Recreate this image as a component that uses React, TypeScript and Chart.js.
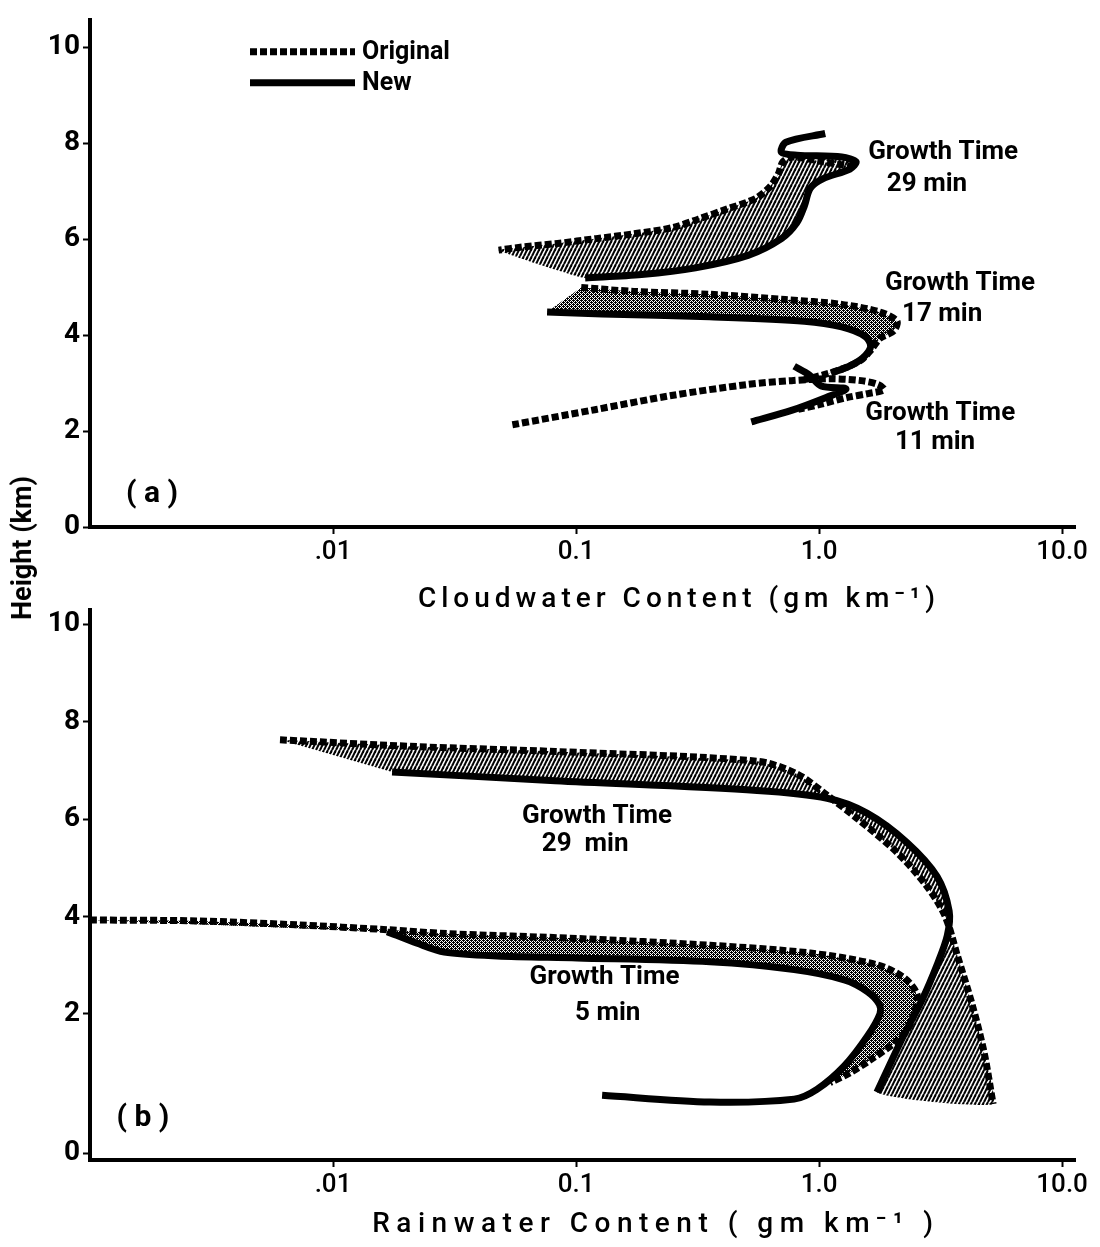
import React, { useEffect, useRef } from 'react';
import { Chart, registerables } from 'chart.js';

Chart.register(...registerables);

type P = { x: number; y: number };

// ---------- axes ----------
const contentTicks = [0.01, 0.1, 1, 10];
const contentTickLabels = ['.01', '0.1', '1.0', '10.0'];
const heightTicksA = [0, 2, 4, 6, 8, 10];
const heightTicksB = [-0.86, 2, 4, 6, 8, 10];
const heightTickLabels = ['0', '2', '4', '6', '8', '10'];

// ---------- panel (a): cloudwater ----------
const cloudOriginal29: P[] = [
  { x: 1.39, y: 7.51 }, { x: 1.04, y: 7.61 }, { x: 0.78, y: 7.71 }, { x: 0.71, y: 7.61 },
  { x: 0.68, y: 7.36 }, { x: 0.63, y: 7.1 }, { x: 0.55, y: 6.85 }, { x: 0.42, y: 6.63 },
  { x: 0.32, y: 6.42 }, { x: 0.25, y: 6.24 }, { x: 0.173, y: 6.11 }, { x: 0.121, y: 6.01 },
  { x: 0.084, y: 5.91 }, { x: 0.059, y: 5.83 }, { x: 0.048, y: 5.77 },
];
const cloudNew29: P[] = [
  { x: 1.06, y: 8.2 }, { x: 0.73, y: 8.02 }, { x: 0.7, y: 7.81 }, { x: 0.81, y: 7.75 },
  { x: 1.24, y: 7.71 }, { x: 1.42, y: 7.61 }, { x: 1.34, y: 7.46 }, { x: 1.04, y: 7.26 },
  { x: 0.92, y: 7.06 }, { x: 0.87, y: 6.69 }, { x: 0.81, y: 6.34 }, { x: 0.7, y: 6.01 },
  { x: 0.51, y: 5.66 }, { x: 0.31, y: 5.4 }, { x: 0.186, y: 5.26 }, { x: 0.109, y: 5.19 },
];
const cloudOriginal17: P[] = [
  { x: 0.105, y: 4.99 }, { x: 0.173, y: 4.91 }, { x: 0.354, y: 4.85 }, { x: 0.726, y: 4.74 },
  { x: 1.24, y: 4.64 }, { x: 1.78, y: 4.48 }, { x: 2.09, y: 4.29 }, { x: 2.03, y: 4.09 },
  { x: 1.78, y: 3.93 }, { x: 1.63, y: 3.68 }, { x: 1.49, y: 3.48 }, { x: 1.24, y: 3.29 },
  { x: 1.04, y: 3.17 }, { x: 0.87, y: 3.07 },
];
const cloudNew17: P[] = [
  { x: 0.076, y: 4.48 }, { x: 0.128, y: 4.44 }, { x: 0.354, y: 4.38 }, { x: 0.87, y: 4.29 },
  { x: 1.24, y: 4.17 }, { x: 1.55, y: 3.97 }, { x: 1.63, y: 3.76 }, { x: 1.51, y: 3.52 },
  { x: 1.33, y: 3.35 }, { x: 1.12, y: 3.21 },
];
const cloudOriginal11: P[] = [
  { x: 0.0547, y: 2.13 }, { x: 0.121, y: 2.45 }, { x: 0.247, y: 2.74 }, { x: 0.507, y: 2.97 },
  { x: 0.77, y: 3.05 }, { x: 1.12, y: 3.09 }, { x: 1.49, y: 3.05 }, { x: 1.75, y: 2.97 },
  { x: 1.85, y: 2.86 }, { x: 1.59, y: 2.78 }, { x: 1.31, y: 2.7 }, { x: 1.02, y: 2.56 },
  { x: 0.82, y: 2.45 },
];
const cloudNew11: P[] = [
  { x: 0.526, y: 2.19 }, { x: 0.77, y: 2.43 }, { x: 1.07, y: 2.7 }, { x: 1.29, y: 2.88 },
  { x: 1.02, y: 2.94 }, { x: 0.91, y: 3.17 }, { x: 0.79, y: 3.35 },
];

// ---------- panel (b): rainwater ----------
const rainOriginal29: P[] = [
  { x: 0.00605, y: 7.63 }, { x: 0.0222, y: 7.49 }, { x: 0.082, y: 7.39 }, { x: 0.556, y: 7.19 },
  { x: 0.81, y: 6.93 }, { x: 1.08, y: 6.49 }, { x: 1.43, y: 6.02 }, { x: 2.09, y: 5.32 },
  { x: 2.78, y: 4.62 }, { x: 3.3, y: 4.01 }, { x: 3.7, y: 3.21 }, { x: 4.26, y: 2.2 },
  { x: 4.78, y: 1.2 }, { x: 5.2, y: 0.15 },
];
const rainNew29: P[] = [
  { x: 0.0175, y: 6.97 }, { x: 0.082, y: 6.79 }, { x: 0.556, y: 6.59 }, { x: 1.08, y: 6.43 },
  { x: 1.58, y: 6.12 }, { x: 2.3, y: 5.52 }, { x: 3.06, y: 4.82 }, { x: 3.43, y: 4.11 },
  { x: 3.37, y: 3.61 }, { x: 3.06, y: 3.01 }, { x: 2.66, y: 2.3 }, { x: 2.2, y: 1.5 },
  { x: 1.73, y: 0.39 },
];
const rainOriginal5: P[] = [
  { x: 0.001, y: 3.93 }, { x: 0.00275, y: 3.91 }, { x: 0.0071, y: 3.83 }, { x: 0.0167, y: 3.73 },
  { x: 0.0294, y: 3.65 }, { x: 0.101, y: 3.55 }, { x: 0.356, y: 3.41 }, { x: 0.92, y: 3.25 },
  { x: 1.73, y: 3.01 }, { x: 2.24, y: 2.74 }, { x: 2.53, y: 2.4 }, { x: 2.48, y: 2.06 },
  { x: 2.3, y: 1.66 }, { x: 2.04, y: 1.4 }, { x: 1.62, y: 1.05 }, { x: 1.34, y: 0.79 },
  { x: 1.11, y: 0.59 },
];
const rainNew5: P[] = [
  { x: 0.0167, y: 3.69 }, { x: 0.0222, y: 3.45 }, { x: 0.0287, y: 3.27 }, { x: 0.0473, y: 3.19 },
  { x: 0.101, y: 3.15 }, { x: 0.356, y: 3.07 }, { x: 0.79, y: 2.91 }, { x: 1.27, y: 2.7 },
  { x: 1.58, y: 2.46 }, { x: 1.77, y: 2.2 }, { x: 1.78, y: 2.0 }, { x: 1.58, y: 1.54 },
  { x: 1.27, y: 0.93 }, { x: 0.98, y: 0.45 }, { x: 0.79, y: 0.25 }, { x: 0.356, y: 0.19 },
  { x: 0.128, y: 0.33 },
];

// ---------- text ----------
const cloudNotes = [
  { text: 'Growth Time', x: 3.24, y: 7.81 },
  { text: '29 min', x: 2.78, y: 7.14 },
  { text: 'Growth Time', x: 3.8, y: 5.07 },
  { text: '17 min', x: 3.21, y: 4.42 },
  { text: 'Growth Time', x: 3.15, y: 2.37 },
  { text: '11 min', x: 3.0, y: 1.76 },
];
const rainNotes = [
  { text: 'Growth Time', x: 0.122, y: 6.06 },
  { text: '29  min', x: 0.109, y: 5.48 },
  { text: 'Growth Time', x: 0.131, y: 2.74 },
  { text: '5 min', x: 0.135, y: 2.0 },
];
const legendLabels = ['Original', 'New'];

const ORIGINAL_STYLE = { borderColor: '#000', borderWidth: 7, borderDash: [7, 3] };
const NEW_STYLE = { borderColor: '#000', borderWidth: 7, borderDash: [] as number[] };

type Group = { orig: P[]; neu: P[]; fill: 'hatch' | 'stipple' | null; from?: number; to?: number };
type Panel = {
  groups: Group[];
  notes: { text: string; x: number; y: number }[];
  yMin: number; yMax: number; yTicks: number[];
  xAxisHeight: number; padTop: number;
  title: string; titleAt: number; titleGap: number; titleSpacing: string;
  tag: string; tagX: number; tagY: number;
  legend: boolean;
};

const panelA: Panel = {
  groups: [
    { orig: cloudOriginal29, neu: cloudNew29, fill: 'hatch', from: 3 },
    { orig: cloudOriginal17, neu: cloudNew17, fill: 'stipple' },
    { orig: cloudOriginal11, neu: cloudNew11, fill: null },
  ],
  notes: cloudNotes,
  yMin: 0, yMax: 10.57, yTicks: heightTicksA,
  xAxisHeight: 98, padTop: 10,
  title: 'Cloudwater Content (gm km⁻¹)', titleAt: 0.265, titleGap: 73, titleSpacing: '5px',
  tag: '( a )', tagX: 0.0018, tagY: 0.67,
  legend: true,
};
const panelB: Panel = {
  groups: [
    { orig: rainOriginal29, neu: rainNew29, fill: 'hatch' },
    { orig: rainOriginal5, neu: rainNew5, fill: 'stipple', to: 13 },
  ],
  notes: rainNotes,
  yMin: -1.0, yMax: 10.3, yTicks: heightTicksB,
  xAxisHeight: 87, padTop: 7,
  title: 'Rainwater Content ( gm km⁻¹ )', titleAt: 0.213, titleGap: 65, titleSpacing: '6.5px',
  tag: '( b )', tagX: 0.00165, tagY: -0.15,
  legend: false,
};

function makeHatch(): CanvasPattern {
  const c = document.createElement('canvas');
  c.width = 4; c.height = 8;
  const g = c.getContext('2d')!;
  g.strokeStyle = '#000';
  g.lineWidth = 2.1;
  for (const o of [-4, 0, 4]) {
    g.beginPath(); g.moveTo(o, 8); g.lineTo(o + 4, 0); g.stroke();
  }
  return g.createPattern(c, 'repeat')!;
}
function makeStipple(): CanvasPattern {
  const c = document.createElement('canvas');
  c.width = 4; c.height = 4;
  const g = c.getContext('2d')!;
  g.fillStyle = '#000';
  for (let y = 0; y < 4; y++) for (let x = 0; x < 4; x++) if ((x + y) % 2 === 0) g.fillRect(x, y, 1, 1);
  g.fillRect(1, 0, 1, 1);
  g.fillRect(3, 2, 1, 1);
  return g.createPattern(c, 'repeat')!;
}

function makeChart(canvas: HTMLCanvasElement, panel: Panel, patterns: Record<string, CanvasPattern>) {
  const lineSets: any[] = [];
  const fillSets: any[] = [];
  const common = { pointRadius: 0, pointHoverRadius: 0, tension: 0.3, fill: false, borderCapStyle: 'butt', borderJoinStyle: 'round' };
  for (const g of panel.groups) {
    lineSets.push({ ...common, ...ORIGINAL_STYLE, label: 'Original', data: g.orig });
    lineSets.push({ ...common, ...NEW_STYLE, label: 'New', data: g.neu });
    if (g.fill) {
      const neuPart = g.neu.slice(g.from ?? 0, g.to ?? g.neu.length).reverse();
      fillSets.push({
        ...common,
        tension: 0.15,
        label: 'fill',
        data: [...g.orig, ...neuPart],
        fill: 'shape',
        backgroundColor: patterns[g.fill],
        borderWidth: 0,
        borderColor: 'rgba(0,0,0,0)',
      });
    }
  }

  const decor = {
    id: 'decor',
    afterDraw(chart: any) {
      const { ctx, chartArea, scales } = chart;
      ctx.save();
      ctx.fillStyle = '#000';
      ctx.textAlign = 'center';
      ctx.textBaseline = 'middle';
      ctx.font = 'bold 26px Roboto';
      for (const n of panel.notes) {
        ctx.fillText(n.text, scales.x.getPixelForValue(n.x), scales.y.getPixelForValue(n.y));
      }
      ctx.font = 'bold 30px Roboto';
      ctx.fillText(panel.tag, scales.x.getPixelForValue(panel.tagX), scales.y.getPixelForValue(panel.tagY));
      // axis title
      (ctx as any).letterSpacing = panel.titleSpacing;
      ctx.font = '500 28px Roboto';
      ctx.fillText(panel.title, scales.x.getPixelForValue(panel.titleAt), chartArea.bottom + panel.titleGap);
      (ctx as any).letterSpacing = '0px';
      if (panel.legend) {
        const x0 = chartArea.left + 160;
        const x1 = chartArea.left + 265;
        const ys = [chartArea.top + 32, chartArea.top + 63];
        const styles = [ORIGINAL_STYLE, NEW_STYLE];
        styles.forEach((s, i) => {
          ctx.beginPath();
          ctx.lineWidth = s.borderWidth;
          ctx.strokeStyle = s.borderColor;
          ctx.setLineDash(s.borderDash);
          ctx.moveTo(x0, ys[i]);
          ctx.lineTo(x1, ys[i]);
          ctx.stroke();
          ctx.setLineDash([]);
          ctx.textAlign = 'left';
          ctx.font = 'bold 25px Roboto';
          ctx.fillText(legendLabels[i], x1 + 7, ys[i] + 1);
        });
      }
      ctx.restore();
    },
  };

  return new Chart(canvas, {
    type: 'line',
    data: { datasets: [...lineSets, ...fillSets] },
    options: {
      responsive: false,
      animation: false,
      devicePixelRatio: 1,
      layout: { padding: { top: panel.padTop, right: 25, left: 0, bottom: 0 } },
      plugins: { legend: { display: false }, tooltip: { enabled: false } },
      events: [],
      scales: {
        x: {
          type: 'logarithmic',
          min: 0.001,
          max: 11.3,
          afterBuildTicks: (s: any) => { s.ticks = contentTicks.map((v) => ({ value: v })); },
          afterFit: (s: any) => { s.height = panel.xAxisHeight; },
          ticks: {
            autoSkip: false, maxRotation: 0, padding: 3, color: '#000',
            font: { family: 'Roboto', size: 26, weight: '500' },
            callback: (_v: any, i: number) => contentTickLabels[i],
          },
          grid: { drawOnChartArea: false, drawTicks: true, tickLength: 7, tickWidth: 2, tickColor: '#000' },
          border: { display: true, color: '#000', width: 4 },
        },
        y: {
          type: 'linear',
          bounds: 'data',
          min: panel.yMin,
          max: panel.yMax,
          afterBuildTicks: (s: any) => { s.ticks = panel.yTicks.map((v) => ({ value: v })); },
          afterFit: (s: any) => { s.width = 90; },
          ticks: {
            autoSkip: false, padding: 3, color: '#000',
            font: { family: 'Roboto', size: 28, weight: 'bold' },
            callback: (_v: any, i: number) => heightTickLabels[i],
          },
          grid: { drawOnChartArea: false, drawTicks: true, tickLength: 7, tickWidth: 2, tickColor: '#000' },
          border: { display: true, color: '#000', width: 4 },
        },
      },
    } as any,
    plugins: [decor],
  });
}

export default function App() {
  const refA = useRef<HTMLCanvasElement>(null);
  const refB = useRef<HTMLCanvasElement>(null);
  useEffect(() => {
    const patterns = { hatch: makeHatch(), stipple: makeStipple() };
    const a = makeChart(refA.current!, panelA, patterns);
    const b = makeChart(refB.current!, panelB, patterns);
    return () => { a.destroy(); b.destroy(); };
  }, []);
  return (
    <div style={{ position: 'absolute', left: 0, top: 0, width: 1100, height: 1247, background: '#fff', overflow: 'hidden' }}>
      <canvas ref={refA} width={1100} height={625} style={{ position: 'absolute', left: 0, top: 0 }} />
      <canvas ref={refB} width={1100} height={657} style={{ position: 'absolute', left: 0, top: 590 }} />
      <div
        style={{
          position: 'absolute', left: 22, top: 548,
          transform: 'translate(-50%, -50%) rotate(-90deg)',
          font: 'bold 27px Roboto', whiteSpace: 'nowrap', color: '#000',
        }}
      >
        Height (km)
      </div>
    </div>
  );
}
